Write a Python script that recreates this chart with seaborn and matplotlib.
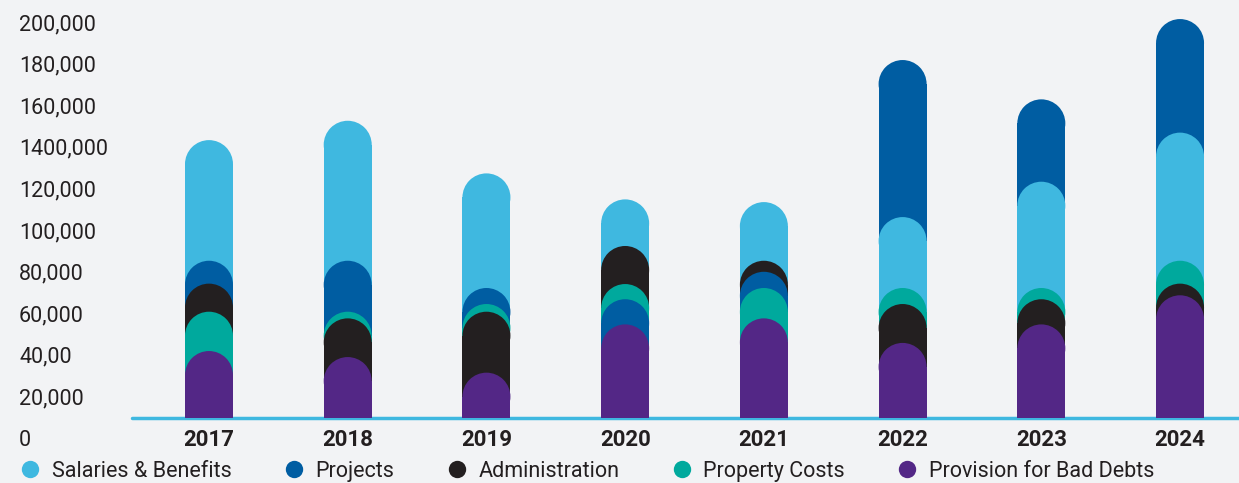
import numpy as np
import pandas as pd
import matplotlib
matplotlib.use("Agg")
import matplotlib.pyplot as plt
import matplotlib.transforms as mtransforms
from matplotlib.patches import Ellipse
from matplotlib.lines import Line2D
import seaborn as sns

# ---------------- data ----------------
years = ["2017", "2018", "2019", "2020", "2021", "2022", "2023", "2024"]
series = ["Salaries & Benefits", "Projects", "Administration",
          "Property Costs", "Provision for Bad Debts"]
salaries = [133600, 142900, 117600, 105100, 103800, 96600, 113600, 137200]
projects = [75600, 75600, 62500, 57100, 70300, 172100, 153200, 191800]
administration = [64600, 47900, 51100, 82700, 75600, 54800, 57100, 64600]
property_costs = [51100, 51100, 54800, 64400, 62500, 62500, 62500, 75600]
bad_debts = [32200, 29300, 21800, 45000, 47900, 36100, 45000, 59000]
colors = ["#3fb8e0", "#005da2", "#231f20", "#00a99d", "#532786"]
ytick_values = [0, 20000, 40000, 60000, 80000, 100000, 120000, 140000,
                160000, 180000, 200000]
ytick_labels = ["0", "20,000", "40,00", "60,000", "80,000", "100,000",
                "120,000", "1400,000", "160,000", "180,000", "200,000"]

values = [salaries, projects, administration, property_costs, bad_debts]
df = pd.DataFrame({
    "year": np.tile(years, len(series)),
    "series": np.repeat(series, len(years)),
    "value": np.concatenate(values),
})

# ---------------- style ----------------
sns.set_theme(style="white")
BG = "#f2f3f5"
TXT = "#231f20"
plt.rcParams["font.family"] = ["Roboto", "DejaVu Sans"]
plt.rcParams["figure.facecolor"] = BG
plt.rcParams["axes.facecolor"] = BG

W, H = 1239, 483
fig = plt.figure(figsize=(W / 100, H / 100), dpi=100)
ax = fig.add_axes([132 / W, 65 / H, 1107 / W, 418 / H])

bar_w = 0.346
sns.barplot(data=df, x="year", y="value", hue="series", order=years,
            hue_order=series, palette=colors, dodge=False, width=bar_w,
            saturation=1, linewidth=0, legend=False, ax=ax)

ax.set_xlim(-0.555, 7.425)
ax.set_ylim(0, 200960)

# pixel aspect to make round caps circular
ax_w_px = 1107
ax_h_px = 418
px_per_x = ax_w_px / (7.425 + 0.555)
px_per_y = ax_h_px / 200960
r_y = (bar_w / 2) * px_per_x / px_per_y

# z-order: tallest bar per year at the back
arr = np.array(values)
ranks = np.argsort(np.argsort(-arr, axis=0), axis=0)

for si, cont in enumerate(ax.containers):
    for yi, rect in enumerate(cont.patches):
        h = rect.get_height()
        x0 = rect.get_x()
        w = rect.get_width()
        z = 2 + ranks[si, yi]
        rect.set_height(h - r_y)
        rect.set_zorder(z)
        rect.set_linewidth(0)
        ell = Ellipse((x0 + w / 2, h - r_y), width=w, height=2 * r_y,
                      facecolor=rect.get_facecolor(), edgecolor="none",
                      zorder=z)
        ax.add_patch(ell)

# baseline
ax.axhline(0, color="#3fb8e0", lw=2.5, zorder=1, clip_on=False)

for s in ax.spines.values():
    s.set_visible(False)
ax.grid(False)
ax.set_xlabel("")
ax.set_ylabel("")

# y ticks
ax.set_yticks(ytick_values)
ax.set_yticklabels(ytick_labels)
ax.tick_params(axis="y", length=0, pad=113 * 0.72, labelsize=15.5,
               labelcolor=TXT)
offset = mtransforms.ScaledTranslation(0, -0.20, fig.dpi_scale_trans)
for lab in ax.get_yticklabels():
    lab.set_horizontalalignment("left")
    lab.set_transform(lab.get_transform() + offset)

# x ticks
ax.tick_params(axis="x", length=0, pad=8.0, labelsize=16, labelcolor=TXT)
for lab in ax.get_xticklabels():
    lab.set_fontweight("bold")

# legend
handles = [Line2D([], [], marker="o", linestyle="", markersize=12.5,
                  markerfacecolor=c, markeredgecolor="none") for c in colors]
fig.legend(handles, series, loc="center left",
           bbox_to_anchor=(19.5 / W, 11.5 / H), ncol=5, frameon=False,
           fontsize=15.5, handlelength=1.0, handletextpad=0.5,
           columnspacing=2.4, borderpad=0, borderaxespad=0,
           labelcolor=TXT)

fig.savefig("out.png", dpi=100, facecolor=BG)
